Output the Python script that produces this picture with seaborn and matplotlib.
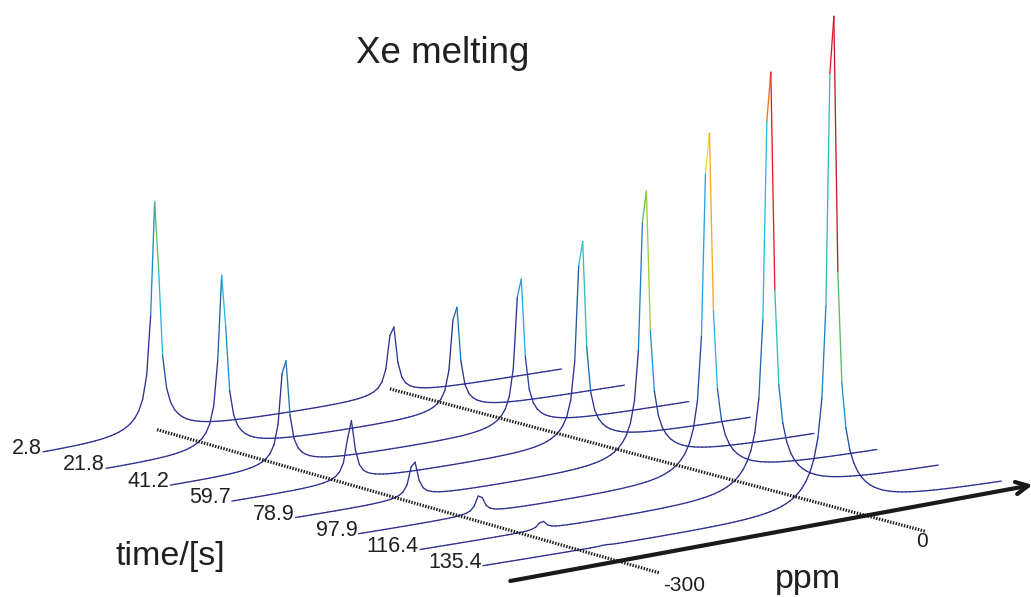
import numpy as np
import pandas as pd
import matplotlib
matplotlib.use("Agg")
import matplotlib.pyplot as plt
import seaborn as sns
from matplotlib.collections import LineCollection
from matplotlib.colors import LinearSegmentedColormap, Normalize

# ---------------- data ----------------
times = [2.8, 21.8, 41.2, 59.7, 78.9, 97.9, 116.4, 135.4]
time_labels = ["2.8", "21.8", "41.2", "59.7", "78.9", "97.9", "116.4", "135.4"]
solid_height = [0.473, 0.355, 0.215, 0.124, 0.073, 0.037, 0.016, 0.0015]
solid_ppm = [-299, -294, -297, -291, -292, -288, -287, -287]
liquid_height = [0.140, 0.213, 0.304, 0.412, 0.548, 0.698, 0.854, 1.0]
liquid_ppm = [-2, -2, -2, -2, -2, -2, -2, -2]
ppm_grid = np.arange(-440, 211, 5)

guide_ppm = [-300, 0]
guide_t_start = [3.5, 1.6]
guide_t_end = [155.1, 162.9]
guide_z_start = [0.012, 0.013]
guide_z_end = [-0.017, 0.003]
guide_labels = ["-300", "0"]

axis_ppm = [-464, 226]
axis_t = [149.4, 141.0]

title = "Xe melting"
xlabel = "ppm"
tlabel = "time/[s]"

# ---------------- projection (oblique waterfall view) ----------------
X0, Y0, P0, T0 = 43.0, 453.0, -440.0, 2.8
AX, AY, BX, BY, H = 0.7975, -0.1288, 3.318, 0.852, 493.0


def proj(p, t, z):
    p = np.asarray(p, float)
    t = np.asarray(t, float)
    z = np.asarray(z, float)
    X = X0 + AX * (p - P0) + BX * (t - T0)
    Y = Y0 + AY * (p - P0) + BY * (t - T0) - H * z
    return X, Y


def lineshape(grid, center, height):
    d = grid - center
    prof = 0.93 / (1 + (d / 5.6) ** 2) + 0.07 / (1 + (d / 31.0) ** 2)
    return height * prof / prof.max()


sns.set_theme(style="white")
plt.rcParams["font.family"] = ["Liberation Sans", "DejaVu Sans"]

cmap = LinearSegmentedColormap.from_list(
    "xejet",
    [(0.0, "#2e3192"), (0.12, "#2e3192"), (0.2, "#1b6fba"), (0.3, "#27aae1"),
     (0.38, "#2ac4e0"), (0.44, "#3fb88f"), (0.5, "#6abf4b"), (0.57, "#b5d334"),
     (0.64, "#f9e232"), (0.72, "#f7941d"), (0.85, "#ed1c24"), (1.0, "#be1e2d")])
norm = Normalize(0, 1)

fig = plt.figure(figsize=(10.31, 5.97), dpi=100)
ax = fig.add_axes([0, 0, 1, 1])
ax.set_xlim(0, 1031)
ax.set_ylim(597, 0)
ax.axis("off")

# spectra
for i, t in enumerate(times):
    z = lineshape(ppm_grid, solid_ppm[i], solid_height[i]) + \
        lineshape(ppm_grid, liquid_ppm[i], liquid_height[i])
    X, Y = proj(ppm_grid, np.full_like(ppm_grid, t, dtype=float), z)
    pts = np.column_stack([X, Y])
    segs = np.stack([pts[:-1], pts[1:]], axis=1)
    lc = LineCollection(segs, colors=cmap(norm(z[:-1])), linewidths=0.95,
                        capstyle="round", joinstyle="round")
    ax.add_collection(lc)
    ax.text(X[0] - 1, Y[0] + 2, time_labels[i], ha="right", va="baseline",
            fontsize=15.5, color="#231f20")

# dotted guide lines
for k in range(len(guide_ppm)):
    gx, gy = proj([guide_ppm[k], guide_ppm[k]],
                  [guide_t_start[k], guide_t_end[k]],
                  [guide_z_start[k], guide_z_end[k]])
    df = pd.DataFrame({"x": gx, "y": gy})
    sns.lineplot(data=df, x="x", y="y", sort=False, estimator=None, ax=ax,
                 color="#1a1a1a", lw=2.3, linestyle=(0, (0.45, 0.45)),
                 legend=False)

lx, ly = proj([guide_ppm[0]], [guide_t_end[0]], [guide_z_end[0]])
ax.text(lx[0] + 24, ly[0] + 18, guide_labels[0], ha="center", va="baseline",
        fontsize=15, color="#231f20")
rx, ry = proj([guide_ppm[1]], [guide_t_end[1]], [guide_z_end[1]])
ax.text(rx[0] - 3, ry[0] + 16, guide_labels[1], ha="center", va="baseline",
        fontsize=15, color="#231f20")

# ppm axis arrow
axx, axy = proj(axis_ppm, axis_t, [0, 0])
ax.annotate("", xy=(axx[1], axy[1]), xytext=(axx[0], axy[0]),
            arrowprops=dict(arrowstyle="->", lw=3.0, color="#1a1a1a",
                            mutation_scale=22, shrinkA=0, shrinkB=0),
            annotation_clip=False)

# texts
ax.text(443, 63, title, ha="center", va="baseline", fontsize=26.5, color="#231f20")
ax.text(808, 588, xlabel, ha="center", va="baseline", fontsize=24.5, color="#231f20")
ax.text(170, 565, tlabel, ha="center", va="baseline", fontsize=24.5, color="#231f20")

fig.savefig("out.png", dpi=100, facecolor="white")
